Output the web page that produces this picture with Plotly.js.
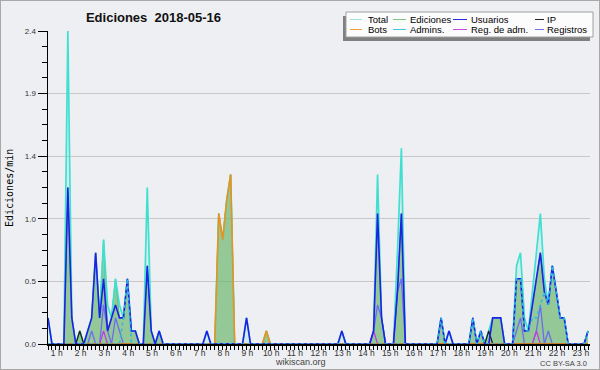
<!DOCTYPE html>
<html><head><meta charset="utf-8">
<script src="https://cdn.plot.ly/plotly-3.0.1.min.js"></script>
<style>
html,body{margin:0;padding:0;background:#fff}
#c{width:598px;height:368px;border:1px solid #a8a8a8}
</style>
</head><body><div id="c"></div>
<script>
// ---- data: edits per minute, one value per 10-minute slot, starting 0:50 ----
const startHour = 50/60;
const stepHour = 1/6;

const total = [
 0.2,0,0,0,0,2.4,0.2,0,0.1,0,0.1,0.2,
 0.7,0.2,0.8,0.3,0.2,0.5,0.3,0.2,0.5,0.1,0.1,0,
 0,1.2,0.1,0,0.1,0,0,0,0,0,0,0,
 0,0,0,0,0.1,0,0,1.0,0.8,1.1,1.3,0,
 0,0,0.2,0,0,0,0,0.1,0,0,0,0,
 0,0,0,0,0,0,0,0,0,0,0,0,
 0,0,0.1,0,0,0,0,0,0,0,0.1,1.3,
 0.2,0,0,0,0.7,1.5,0,0,0,0,0,0,
 0,0,0,0.2,0,0.1,0,0,0,0,0,0.2,
 0,0.1,0,0.1,0.2,0.2,0.2,0,0,0,0.6,0.7,
 0.2,0.1,0.4,0.7,1.0,0.5,0.3,0.6,0.4,0.2,0.2,0,
 0,0,0,0,0.1];

const ediciones = [
 0,0,0,0,0,1.2,0.2,0,0.1,0,0.1,0.2,
 0.7,0.2,0.8,0.1,0.2,0.5,0.2,0.2,0.5,0.1,0.1,0,
 0,0.6,0.1,0,0.1,0,0,0,0,0,0,0,
 0,0,0,0,0,0,0,1.0,0.8,1.1,1.3,0,
 0,0,0,0,0,0,0,0.1,0,0,0,0,
 0,0,0,0,0,0,0,0,0,0,0,0,
 0,0,0,0,0,0,0,0,0,0,0.1,1.0,
 0.2,0,0,0,0.4,1.0,0,0,0,0,0,0,
 0,0,0,0.2,0,0,0,0,0,0,0,0.2,
 0,0.1,0,0.1,0.2,0.2,0.2,0,0,0,0.5,0.5,
 0.1,0.1,0.3,0.5,0.7,0.4,0.3,0.6,0.4,0.2,0.2,0,
 0,0,0,0,0.1];

const usuarios = [
 0.2,0,0,0,0,1.2,0.2,0,0,0,0.1,0.2,
 0.7,0.2,0.5,0.1,0.2,0.3,0.2,0.2,0.5,0.1,0.1,0,
 0,0.6,0.1,0,0.1,0,0,0,0,0,0,0,
 0,0,0,0,0.1,0,0,0,0,0,0,0,
 0,0,0.2,0,0,0,0,0,0,0,0,0,
 0,0,0,0,0,0,0,0,0,0,0,0,
 0,0,0.1,0,0,0,0,0,0,0,0.1,1.0,
 0.2,0,0,0,0.4,1.0,0,0,0,0,0,0,
 0,0,0,0.2,0,0.1,0,0,0,0,0,0.2,
 0,0.1,0,0,0.2,0.2,0.2,0,0,0,0.5,0.5,
 0.1,0.1,0.3,0.5,0.7,0.4,0.3,0.6,0.4,0.2,0.2,0,
 0,0,0,0,0.1];

const ip = [
 0,0,0,0,0,0,0,0,0.1,0,0,0,
 0,0,0,0,0,0,0,0,0,0,0,0,
 0,0,0,0,0,0,0,0,0,0,0,0,
 0,0,0,0,0,0,0,0,0,0,0,0,
 0,0,0,0,0,0,0,0,0,0,0,0,
 0,0,0,0,0,0,0,0,0,0,0,0,
 0,0,0,0,0,0,0,0,0,0,0,0,
 0,0,0,0,0,0,0,0,0,0,0,0,
 0,0,0,0,0,0,0,0,0,0,0,0,
 0,0,0,0.1,0,0,0,0,0,0,0,0,
 0,0,0,0,0,0,0,0,0,0,0,0,
 0,0,0,0,0];

const bots = [
 0,0,0,0,0,0,0,0,0,0,0,0,
 0,0,0,0,0,0,0,0,0,0,0,0,
 0,0,0,0,0,0,0,0,0,0,0,0,
 0,0,0,0,0,0,0,1.0,0.8,1.1,1.3,0,
 0,0,0,0,0,0,0,0.1,0,0,0,0,
 0,0,0,0,0,0,0,0,0,0,0,0,
 0,0,0,0,0,0,0,0,0,0,0,0,
 0,0,0,0,0,0,0,0,0,0,0,0,
 0,0,0,0,0,0,0,0,0,0,0,0,
 0,0,0,0,0,0,0,0,0,0,0,0,
 0,0,0,0,0,0,0,0,0,0,0,0,
 0,0,0,0,0];

const admins = [
 0,0,0,0,0,0,0,0,0,0,0,0,
 0,0,0,0,0,0,0,0.2,0.5,0,0,0,
 0,0,0,0,0,0,0,0,0,0,0,0,
 0,0,0,0,0,0,0,0,0,0,0,0,
 0,0,0,0,0,0,0,0,0,0,0,0,
 0,0,0,0,0,0,0,0,0,0,0,0,
 0,0,0,0,0,0,0,0,0,0,0,0,
 0,0,0,0,0,0,0,0,0,0,0,0,
 0,0,0,0.2,0,0,0,0,0,0,0,0.2,
 0,0.1,0,0,0,0,0,0,0,0,0.5,0.5,
 0.1,0.1,0.2,0.2,0.3,0.4,0.3,0.6,0.4,0.2,0.2,0,
 0,0,0,0,0.1];

const regAdm = [
 0,0,0,0,0,0,0,0,0,0,0,0,
 0,0,0.1,0,0,0,0,0,0,0,0,0,
 0,0,0,0,0,0,0,0,0,0,0,0,
 0,0,0,0,0,0,0,0,0,0,0,0,
 0,0,0,0,0,0,0,0,0,0,0,0,
 0,0,0,0,0,0,0,0,0,0,0,0,
 0,0,0,0,0,0,0,0,0,0,0.1,0,
 0,0,0,0,0,0,0,0,0,0,0,0,
 0,0,0,0,0,0,0,0,0,0,0,0,
 0,0,0,0,0,0,0,0,0,0,0,0,
 0,0,0,0.1,0,0,0,0,0,0,0,0,
 0,0,0,0,0];

const registros = [
 0,0,0,0,0,0,0,0,0,0,0,0.1,
 0,0,0.3,0.1,0,0.2,0.1,0,0,0,0,0,
 0,0,0,0,0,0,0,0,0,0,0,0,
 0,0,0,0,0,0,0,0,0,0,0,0,
 0,0,0,0,0,0,0,0,0,0,0,0,
 0,0,0,0,0,0,0,0,0,0,0,0,
 0,0,0,0,0,0,0,0,0,0,0.1,0.3,
 0.2,0,0,0,0.4,0.5,0,0,0,0,0,0,
 0,0,0,0,0,0,0,0,0,0,0,0,
 0,0,0,0,0,0,0,0,0,0,0.1,0.2,
 0,0,0,0.1,0.3,0,0.1,0,0,0,0,0,
 0,0,0,0,0];

const hourTicks = [1,2,3,4,5,6,7,8,9,10,11,12,13,14,15,16,17,18,19,20,21,22,23];
const hourLabels = hourTicks.map(h => h + ' h');
const yTickLabels = ['0.0','0.5','1.0','1.4','1.9','2.4'];
const yMax = 2.4;

// ---- layout helpers ----
const times = total.map((_, k) => startHour + k*stepHour);
const W = 598, H = 368, L = 47, R = 9, T = 30, B = 25;
const PW = W - L - R, PH = H - T - B;
const px = x => (x - 1 - L) / PW;
const py = y => 1 - (y - 1 - T) / PH;

const yMajor = yTickLabels.map((_, i) => yMax * i / (yTickLabels.length - 1));
const yMinor = [];
for (let i = 0; i <= 20; i++) yMinor.push(yMax * i / 20);

const C = {
  total: '#40e0d0', ed: '#66bb66', us: '#1f1fe6', ip: '#222222',
  bots: '#f0901a', adm: '#30b8e0', regadm: '#c040e0', reg: '#6c6cf0'
};

function line(name, y, color, width, extra) {
  return Object.assign({type: 'scatter', mode: 'lines', name, x: times, y,
    line: {color, width}, hoverinfo: 'skip'}, extra || {});
}

const traces = [
  line('Ediciones', ediciones, C.ed, 1.2, {fill: 'tozeroy', fillcolor: 'rgba(113,169,75,0.6)'}),
  line('Total', total, C.total, 1.7, {fill: 'tozeroy', fillcolor: 'rgba(64,224,208,0.15)'}),
  line('Registros', registros, C.reg, 1.3),
  line('Reg. de adm.', regAdm, C.regadm, 1.3),
  line('IP', ip, C.ip, 1.3),
  line('Bots', bots, C.bots, 1.6),
  line('Usuarios', usuarios, C.us, 1.6),
  line('Admins.', admins, C.adm, 1.6, {line: {color: C.adm, width: 1.6, dash: 'dot'}})
];

// ---- manual legend ----
const legendCols = [{lx: 350, lw: 12, tx: 366}, {lx: 393, lw: 13, tx: 408},
                    {lx: 453, lw: 14, tx: 469}, {lx: 535, lw: 9, tx: 545}];
const legendRows = [19.5, 29.5];
const legendItems = [
  ['Total', '#9fe3dc'], ['Ediciones', '#7fc87f'], ['Usuarios', '#2a2ae0'], ['IP', '#222'],
  ['Bots', '#f0a040'], ['Admins.', '#48c8e4'], ['Reg. de adm.', '#c84ae0'], ['Registros', '#7070ee']
];

const shapes = [
  {type: 'rect', xref: 'paper', yref: 'paper', x0: px(343), x1: px(590), y0: py(16), y1: py(41),
   fillcolor: '#808080', line: {width: 0}, layer: 'above'},
  {type: 'rect', xref: 'paper', yref: 'paper', x0: px(346), x1: px(593), y0: py(12), y1: py(37),
   fillcolor: '#fcfcfc', line: {color: '#a0a0a0', width: 1}, layer: 'above'}
];
const annotations = [];
legendItems.forEach((it, i) => {
  const col = legendCols[i % 4], ry = legendRows[Math.floor(i / 4)];
  shapes.push({type: 'line', xref: 'paper', yref: 'paper', x0: px(col.lx), x1: px(col.lx + col.lw),
    y0: py(ry), y1: py(ry), line: {color: it[1], width: 1}, layer: 'above'});
  annotations.push({xref: 'paper', yref: 'paper', x: px(col.tx), y: py(ry), xanchor: 'left', yanchor: 'middle',
    text: it[0], showarrow: false, font: {family: 'Liberation Sans', size: 9.5, color: '#000'}});
});

annotations.push({xref: 'paper', yref: 'paper', x: px(9), y: py(188), text: 'Ediciones/min',
  textangle: -90, showarrow: false, xanchor: 'center', yanchor: 'middle',
  font: {family: 'DejaVu Sans Mono', size: 10, color: '#000'}});
annotations.push({xref: 'paper', yref: 'paper', x: px(300), y: py(362), text: 'wikiscan.org',
  showarrow: false, xanchor: 'center', yanchor: 'middle',
  font: {family: 'Liberation Sans', size: 9, color: '#444'}});
annotations.push({xref: 'paper', yref: 'paper', x: px(589), y: py(363), text: 'CC BY-SA 3.0',
  showarrow: false, xanchor: 'right', yanchor: 'middle',
  font: {family: 'Liberation Sans', size: 7.5, color: '#444'}});

const layout = {
  width: W, height: H,
  margin: {l: L, r: R, t: T, b: B, pad: 0},
  paper_bgcolor: '#eeeff2', plot_bgcolor: '#eeeff2',
  showlegend: false,
  title: {text: 'Ediciones\u00a0 2018-05-16', xref: 'container', yref: 'container',
    x: (153.5 - 1) / W, xanchor: 'center', y: 1 - (17 - 1) / H, yanchor: 'middle',
    font: {family: 'Liberation Sans', size: 13, weight: 'bold', color: '#111'}},
  xaxis: {
    range: [startHour, startHour + (total.length - 0.5) * stepHour],
    tickmode: 'array', tickvals: hourTicks.map(h => h + 0.2), ticktext: hourLabels,
    ticks: '', showline: true, linecolor: '#000', linewidth: 2,
    showgrid: false, zeroline: false,
    tickfont: {family: 'Liberation Sans', size: 8.5, color: '#333'},
    minor: {tickmode: 'array', tickvals: times, ticks: 'outside', ticklen: 4,
      tickcolor: '#000', tickwidth: 1, showgrid: false},
    fixedrange: true
  },
  yaxis: {
    range: [0, yMax], tickmode: 'array', tickvals: yMajor, ticktext: yTickLabels,
    ticks: 'outside', ticklen: 9, tickcolor: '#000', tickwidth: 1,
    showline: true, linecolor: '#000', linewidth: 1.5,
    showgrid: true, gridcolor: '#c8c8c8', gridwidth: 1, zeroline: false,
    tickfont: {family: 'Liberation Sans', size: 8, color: '#333'},
    minor: {tickmode: 'array', tickvals: yMinor, ticks: 'outside', ticklen: 5,
      tickcolor: '#000', tickwidth: 1, showgrid: false},
    fixedrange: true
  },
  shapes, annotations,
  hovermode: false
};

Plotly.newPlot('c', traces, layout, {staticPlot: true, displayModeBar: false});
</script></body></html>
